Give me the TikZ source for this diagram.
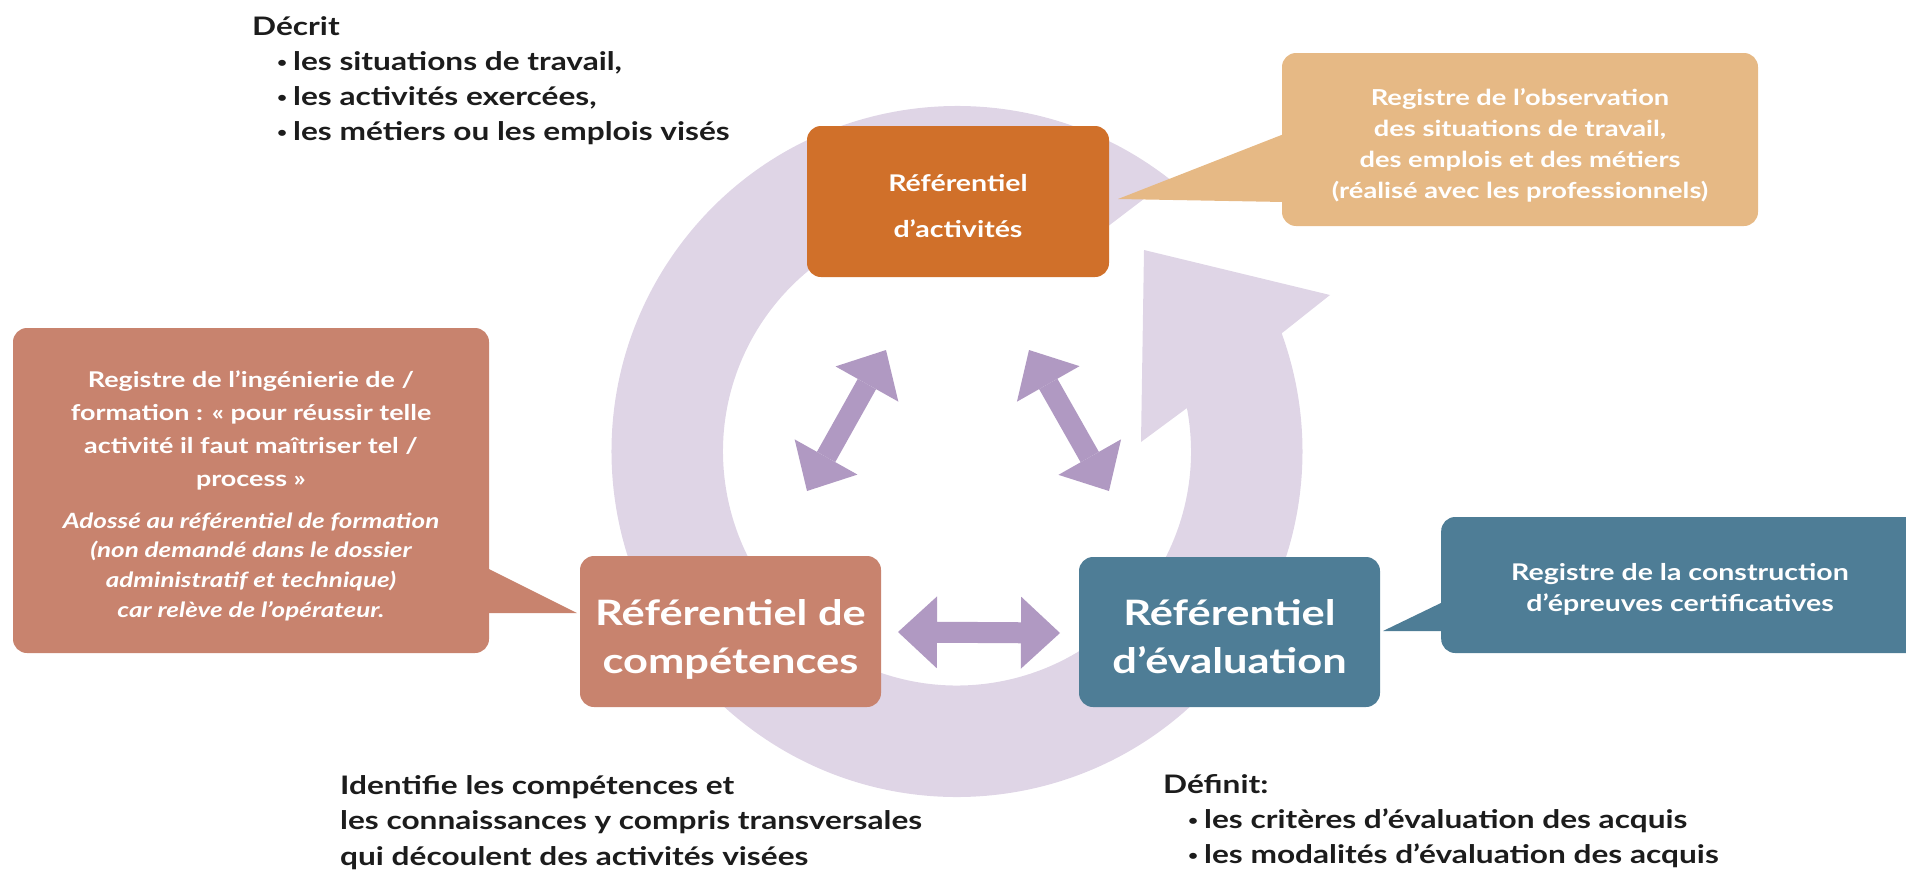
\documentclass[tikz,border=0pt]{standalone}
\usepackage{fontspec}
\setmainfont{Lato}[FakeStretch=1.24]
\usetikzlibrary{arrows.meta,calc}
\definecolor{actc}{HTML}{D0702A}
\definecolor{obsc}{HTML}{E6B985}
\definecolor{compc}{HTML}{C8836E}
\definecolor{evalc}{HTML}{4E7D96}
\definecolor{ringc}{HTML}{DFD5E6}
\definecolor{dblc}{HTML}{B099C2}
\definecolor{txtc}{HTML}{1C1C1C}
\newcommand{\bul}{\hspace*{25pt}\makebox[16pt][l]{\raisebox{3pt}{\fontsize{14}{14}\selectfont •}}}
\newcommand{\hs}[1]{\rule{0pt}{#1pt}}
\newcommand{\ds}[1]{\rule[-#1pt]{0pt}{0pt}}
\tikzset{
  box/.style={rounded corners=14pt, inner sep=0pt, text=white, align=center},
  callout/.style={rounded corners=14pt, inner sep=0pt},
  wtext/.style={inner sep=0pt, text=white},
  body/.style={inner sep=0pt, text=txtc, font=\bfseries\fontsize{25.5}{35.3}\selectfont},
  dbl/.style={draw=dblc, line width=21pt,
    {Triangle[length=39pt,width=72pt,line width=0pt]}-{Triangle[length=39pt,width=72pt,line width=0pt]}},
}
\begin{document}
\begin{tikzpicture}[x=1pt,y=1pt]
\useasboundingbox (0,0) rectangle (1906,-870);
% circular arrow
\coordinate (C) at (957,-451.5);
\fill[ringc] ($(C)+(52:345.5)$) arc[start angle=52,end angle=380,radius=345.5pt]
  -- (1330,-295) -- (1144,-250) -- (1141,-442)
  -- ($(C)+(10.7:234)$) arc[start angle=370.7,end angle=59.3,radius=234pt] -- cycle;
% boxes
\node[box, fill=actc, minimum width=302pt, minimum height=151pt,
  font=\bfseries\fontsize{23}{46}\selectfont] (act) at (958,-201.5) {\hs{30}Référentiel\\d’activités\ds{5}};
\node[box, fill=compc, minimum width=301pt, minimum height=151pt,
  font=\bfseries\fontsize{35}{48}\selectfont] (comp) at (730.5,-631.5) {\hs{43}Référentiel de\\compétences\ds{8}};
\node[box, fill=evalc, minimum width=301pt, minimum height=150pt,
  font=\bfseries\fontsize{35}{48}\selectfont] (eval) at (1229.5,-632) {\hs{42}Référentiel\\d’évaluation\ds{8}};
% callout observation
\node[callout, fill=obsc, minimum width=476pt, minimum height=173pt] (obs) at (1520,-139.5) {};
\fill[obsc] (1284,-134) -- (1118,-199) -- (1284,-202) -- cycle;
\node[wtext, anchor=base, font=\bfseries\fontsize{22}{31.3}\selectfont] (obst) at (1520,-105)
  {\begin{tabular}[t]{@{}c@{}}Registre de l’observation\\des situations de travail,\\des emplois et des métiers\\(réalisé avec les professionnels)\end{tabular}};
% callout ingenierie
\node[callout, fill=compc, minimum width=476pt, minimum height=325pt] (ing) at (251,-490.5) {};
\fill[compc] (487,-568) -- (577,-613) -- (487,-613) -- cycle;
\node[wtext, anchor=base, font=\bfseries\fontsize{21.7}{33}\selectfont] (inga) at (251,-387)
  {\begin{tabular}[t]{@{}c@{}}Registre de l’ingénierie de /\\formation : « pour réussir telle\\activité il faut maîtriser tel /\\process »\end{tabular}};
\node[wtext, anchor=base, font=\bfseries\itshape\fontsize{21}{29.7}\selectfont] (ingb) at (251,-528)
  {\begin{tabular}[t]{@{}c@{}}Adossé au référentiel de formation\\(non demandé dans le dossier\\administratif et technique)\\car relève de l’opérateur.\end{tabular}};
% callout certification
\node[callout, fill=evalc, minimum width=500pt, minimum height=136pt, anchor=west] (cert) at (1441,-585) {};
\fill[evalc] (1443,-602) -- (1383,-631) -- (1443,-631) -- cycle;
\node[wtext, anchor=base, font=\bfseries\fontsize{23}{31}\selectfont] (certt) at (1680,-580)
  {\begin{tabular}[t]{@{}c@{}}Registre de la construction\\d’épreuves certificatives\end{tabular}};
% double arrows
\coordinate (l1) at (807,-491); \coordinate (l2) at (886,-350);
\coordinate (r1) at (1029,-350); \coordinate (r2) at (1109,-491);
\coordinate (h1) at (898,-632); \coordinate (h2) at (1060,-633);
\draw[dbl] (l1) -- (l2);
\draw[dbl] (r1) -- (r2);
\draw[dbl] (h1) -- (h2);
% descriptive texts
\node[body, anchor=base west] (decrit) at (252,-35)
  {\begin{tabular}[t]{@{}l@{}}Décrit\\\bul les situations de travail,\\\bul les activités exercées,\\\bul les métiers ou les emplois visés\end{tabular}};
\node[body, anchor=base west, font=\bfseries\fontsize{25.5}{35.5}\selectfont] (ident) at (340,-794)
  {\begin{tabular}[t]{@{}l@{}}Identifie les compétences et\\les connaissances y compris transversales\\qui découlent des activités visées\end{tabular}};
\node[body, anchor=base west] (defin) at (1163,-793)
  {\begin{tabular}[t]{@{}l@{}}Définit:\\\bul les critères d’évaluation des acquis\\\bul les modalités d’évaluation des acquis\end{tabular}};
\end{tikzpicture}
\end{document}
